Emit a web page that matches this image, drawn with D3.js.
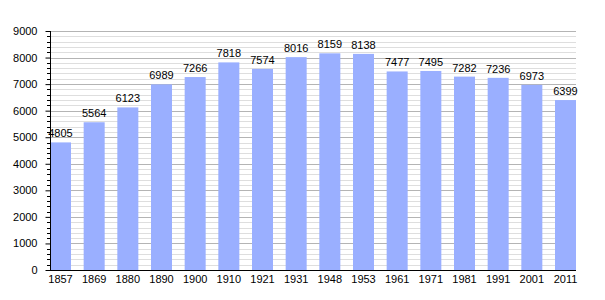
<!DOCTYPE html>
<html><head><meta charset="utf-8">
<script src="https://cdn.jsdelivr.net/npm/d3@7"></script>
<style>body{margin:0;background:#fff}svg{display:block}</style>
</head><body>
<script>
const years = ["1857","1869","1880","1890","1900","1910","1921","1931","1948","1953","1961","1971","1981","1991","2001","2011"];
const population = [4805,5564,6123,6989,7266,7818,7574,8016,8159,8138,7477,7495,7282,7236,6973,6399];
const yTicks = [0,1000,2000,3000,4000,5000,6000,7000,8000,9000];

(function(){
const W = 605, H = 300;
const mLeft = 50, mRight = 576, mTop = 31, mBottom = 270;
const svg = d3.select("body").append("svg").attr("width", W).attr("height", H);
const font = "Liberation Sans, Arial, sans-serif";

const x = d3.scaleBand().domain(years).range([mLeft, mRight]).paddingInner(0.376).paddingOuter(0);
const y = d3.scaleLinear().domain([0, 9000]).range([mBottom, mTop]);

const minor = d3.range(0, 9001, 200).filter(v => v % 1000 !== 0);
svg.append("g").selectAll("line").data(minor).join("line")
  .attr("x1", mLeft).attr("x2", mRight)
  .attr("y1", d => Math.round(y(d)) + 0.5).attr("y2", d => Math.round(y(d)) + 0.5)
  .attr("stroke", "#dedede").attr("stroke-width", 1);
svg.append("g").selectAll("line").data(yTicks.filter(v => v > 0)).join("line")
  .attr("x1", mLeft).attr("x2", mRight)
  .attr("y1", d => Math.round(y(d)) + 0.5).attr("y2", d => Math.round(y(d)) + 0.5)
  .attr("stroke", "#b4b4b4").attr("stroke-width", 1);

svg.append("g").selectAll("rect").data(population).join("rect")
  .attr("x", (d, i) => x(years[i]))
  .attr("width", x.bandwidth())
  .attr("y", d => y(d))
  .attr("height", d => y(0) - y(d))
  .attr("fill", "#9aafff");

svg.append("g").selectAll("text").data(population).join("text")
  .attr("x", (d, i) => x(years[i]) + x.bandwidth() / 2)
  .attr("y", d => y(d) - 5)
  .attr("text-anchor", "middle")
  .attr("font-family", font).attr("font-size", 11).attr("fill", "#000")
  .text(d => d);

const yAxis = svg.append("g").attr("transform", `translate(${mLeft + 0.5},0)`)
  .call(d3.axisLeft(y).tickValues(yTicks).tickSize(5).tickPadding(8).tickFormat(d3.format("d")));
yAxis.select(".domain").attr("stroke", "#000").attr("d", `M0,${mTop}V${mBottom}`);
yAxis.selectAll(".tick line").attr("stroke", "#000");
yAxis.selectAll("text").attr("font-family", font).attr("font-size", 11).attr("fill", "#000");
svg.append("g").selectAll("line").data(minor).join("line")
  .attr("x1", mLeft - 3).attr("x2", mLeft)
  .attr("y1", d => Math.round(y(d)) + 0.5).attr("y2", d => Math.round(y(d)) + 0.5)
  .attr("stroke", "#000");

const xAxis = svg.append("g").attr("transform", `translate(0,${mBottom + 0.5})`)
  .call(d3.axisBottom(x).tickSize(0).tickPadding(5));
xAxis.select(".domain").attr("stroke", "#000").attr("d", `M${mLeft},0H${mRight}`);
xAxis.selectAll("text").attr("font-family", font).attr("font-size", 11).attr("fill", "#000");
})();
</script>
</body></html>
